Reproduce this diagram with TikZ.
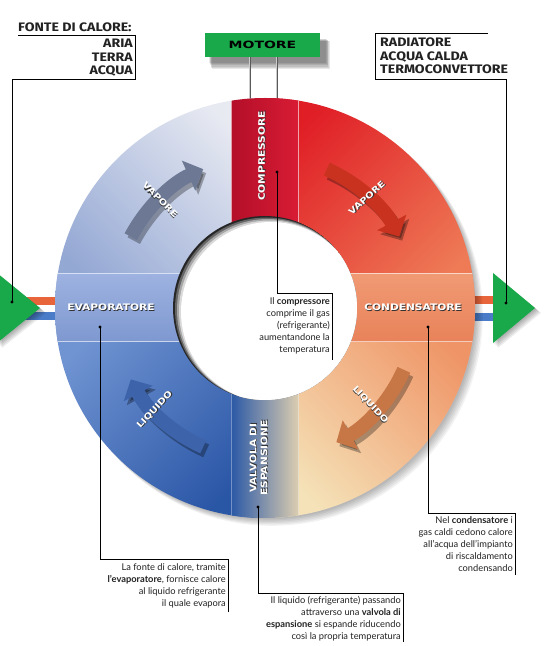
\documentclass[tikz,border=0pt]{standalone}
\usepackage{fontspec}
\setmainfont{Lato}
\newfontfamily\headfont[FakeStretch=1.15]{Fira Sans}
\newfontfamily\bandfont[FakeStretch=1.18]{DejaVu Sans}
\newfontfamily\motorfont[FakeStretch=1.4]{DejaVu Sans}
\usetikzlibrary{arrows.meta}
\definecolor{tlA}{HTML}{E8EAF2}
\definecolor{tlB}{HTML}{94A8D4}
\definecolor{trA}{HTML}{E01E26}
\definecolor{trB}{HTML}{EE7A56}
\definecolor{brA}{HTML}{EF9466}
\definecolor{brB}{HTML}{F5E2B8}
\definecolor{blA}{HTML}{7094D2}
\definecolor{blB}{HTML}{2A56A6}
\definecolor{comp}{HTML}{C8102E}
\definecolor{compL}{HTML}{D81C34}
\definecolor{evapA}{HTML}{9DB2E0}
\definecolor{evapB}{HTML}{7E98D0}
\definecolor{condA}{HTML}{F09A74}
\definecolor{condB}{HTML}{E8825A}
\definecolor{valL}{HTML}{2C5AA6}
\definecolor{valR}{HTML}{DCCDB0}
\definecolor{gr}{HTML}{19A84A}
\definecolor{stO}{HTML}{E8643A}
\definecolor{stB}{HTML}{4A7CC8}
\definecolor{arTL}{HTML}{6C7894}
\definecolor{arTR}{HTML}{C8321E}
\definecolor{arBR}{HTML}{C77646}
\definecolor{arBL}{HTML}{3D64AA}
\definecolor{txt}{HTML}{222222}
\newcommand\shtext[1]{\leavevmode\rlap{\kern0.8pt\raisebox{-0.8pt}{\color{black!80}#1}}{\color{white}#1}}
\tikzset{
  bigarrow/.style={line width=14pt,-{Triangle[length=16pt,width=32pt]}},
  bandlbl/.style={font=\bandfont\bfseries\fontsize{9}{11}\selectfont,inner sep=0,align=center},
  arrlbl/.style={font=\bandfont\bfseries\fontsize{8.5}{10}\selectfont,inner sep=0},
  caption/.style={font=\fontsize{9.3}{12}\selectfont,text=txt,inner sep=0,anchor=north east,align=right},
  callout/.style={draw=black,line width=0.7pt},
  dotmark/.style={fill=black},
  rod/.style={draw=gray!70!black,line width=2.6pt},
  rodhl/.style={draw=gray!40,line width=0.9pt},
  headbold/.style={font=\headfont\bfseries\fontsize{12.3}{13.5}\selectfont,text=txt,inner sep=0}
}
\begin{document}
\begin{tikzpicture}[x=1pt,y=1pt]
\useasboundingbox[fill=white] (0,0) rectangle (544,646);

% ---- motor: shadow, rods, box
\foreach \k in {0,...,5}{
  \fill[black,opacity=0.09] (209+\k*0.6,583-\k*1.2) rectangle (326+\k*0.8,607-\k*0.4);
}
\draw[rod] (250,589) -- (250,545);
\draw[rod] (277,589) -- (277,545);
\draw[rodhl] (249.5,589) -- (249.5,545);
\draw[rodhl] (276.5,589) -- (276.5,545);
\node[fill=gr,minimum width=115,minimum height=24,inner sep=0,
      font=\motorfont\bfseries\fontsize{10}{10}\selectfont] (mot) at (262.5,601) {MOTORE};

% ---- side stripes
\fill[stO] (20,341) rectangle (62,349);
\fill[stB] (20,326) rectangle (62,334);
\fill[stO] (465,342) rectangle (500,350);
\fill[stB] (465,325) rectangle (500,333);

% ---- ring
\begin{scope}[shift={(265,338)}]
  % outer shadow
  \foreach \k in {1,...,6}{
    \fill[black,opacity=0.05] (1+\k,-1-\k) circle (209+\k*0.3);
  }
  \begin{scope}
    \clip (0,0) circle (210);
    \shade[top color=tlA,bottom color=tlB,shading angle=-45] (-210,0) rectangle (0,210);
    \shade[top color=trA,bottom color=trB,shading angle=45] (0,0) rectangle (210,210);
    \shade[top color=brA,bottom color=brB,shading angle=-45] (0,-210) rectangle (210,0);
    \shade[top color=blA,bottom color=blB,shading angle=45] (-210,-210) rectangle (0,0);
    % bands
    \shade[left color=comp!90!black,right color=compL] (-33.5,0) rectangle (33.5,210);
    \shade[left color=valL,right color=valR] (-33.5,-210) rectangle (33.5,0);
    \shade[top color=evapA,bottom color=evapB] (-210,-34) rectangle (0,34);
    \shade[top color=condA,bottom color=condB] (0,-34) rectangle (210,34);
    % band edge highlights
    \draw[white,opacity=0.6,line width=1pt] (-33.5,0) -- (-33.5,210) (33.5,0) -- (33.5,210);
    \draw[white,opacity=0.35,line width=1pt] (-33.5,0) -- (-33.5,-210) (33.5,0) -- (33.5,-210);
    \draw[white,opacity=0.6,line width=1pt] (-210,34) -- (210,34) (-210,-34) -- (210,-34);
  \end{scope}
  % hole with inner shadow
  \begin{scope}
    \clip (0,0) circle (92);
    \fill[black!85] (0,0) circle (92);
    \fill[black!60] (1.5,-1) circle (91.5);
    \fill[black!35] (3,-2) circle (91);
    \fill[black!15] (4.5,-3) circle (90.5);
    \fill[white] (6,-4) circle (90);
  \end{scope}

  % flow arrows: shadows
  \draw[bigarrow,black,opacity=0.3] ([shift={(3,-4)}]152:152) arc[start angle=152,end angle=114,radius=152];
  \draw[bigarrow,black,opacity=0.3] ([shift={(3,-4)}]66:152) arc[start angle=66,end angle=28,radius=152];
  \draw[bigarrow,black,opacity=0.3] ([shift={(3,-4)}]-24:152) arc[start angle=-24,end angle=-62,radius=152];
  \draw[bigarrow,black,opacity=0.3] ([shift={(3,-4)}]-114:152) arc[start angle=-114,end angle=-152,radius=152];
  % flow arrows
  \draw[bigarrow,arTL] (152:152) arc[start angle=152,end angle=114,radius=152];
  \draw[bigarrow,arTR] (66:152) arc[start angle=66,end angle=28,radius=152];
  \draw[bigarrow,arBR] (-24:152) arc[start angle=-24,end angle=-62,radius=152];
  \draw[bigarrow,arBL] (-114:152) arc[start angle=-114,end angle=-152,radius=152];

  % labels
  \node[bandlbl,rotate=90] (lcomp) at (-3,152) {\shtext{COMPRESSORE}};
  \node[bandlbl] (levap) at (-154,0) {\shtext{EVAPORATORE}};
  \node[bandlbl] (lcond) at (148,0) {\shtext{CONDENSATORE}};
  \node[bandlbl,rotate=90] (lvalv) at (-6,-150) {\shtext{VALVOLA DI}\\\shtext{ESPANSIONE}};
  \node[arrlbl,rotate=-45] (vap1) at (-105,108) {\shtext{VAPORE}};
  \node[arrlbl,rotate=42] (vap2) at (102,110) {\shtext{VAPORE}};
  \node[arrlbl,rotate=-47] (liq1) at (105,-97) {\shtext{LIQUIDO}};
  \node[arrlbl,rotate=47] (liq2) at (-110,-102) {\shtext{LIQUIDO}};
\end{scope}

% ---- green triangles with shadows
\foreach \k in {1,...,5}{
  \fill[black,opacity=0.07] (-3+\k,373-\k) -- (40+\k*1.2,338-\k) -- (-3+\k,303-\k) -- cycle;
  \fill[black,opacity=0.07] (493+\k,373-\k) -- (535+\k*1.2,338-\k) -- (493+\k,303-\k) -- cycle;
}
\fill[gr] (-3,373) -- (40,338) -- (-3,303) -- cycle;
\fill[gr] (493,373) -- (535,338) -- (493,303) -- cycle;

% ---- top-left heading box
\node[headbold,anchor=base west] (fonte) at (18,614) {FONTE DI CALORE:};
\node[headbold,anchor=north east,align=right] (srcs) at (133,607) {ARIA\\TERRA\\ACQUA};
\coordinate (dl) at (12,344);
\draw[callout] (18,611) -- (135,611) -- (135,567) -- (12,567) -- (dl);
\fill[dotmark] (dl) circle (1.7);

% ---- top-right heading box
\node[headbold,anchor=north west,align=left] (dest) at (380,608) {RADIATORE\\ACQUA CALDA\\TERMOCONVETTORE};
\coordinate (dr) at (506,343);
\draw[callout] (488,613) -- (375,613) -- (375,567) -- (506,567) -- (dr);
\fill[dotmark] (dr) circle (1.7);

% ---- callouts
\coordinate (dc) at (277,474);
\draw[callout] (dc) -- (277,353) -- (332,353) -- (332,286);
\fill[dotmark] (dc) circle (1.7);
\node[caption] (tcomp) at (330,349) {Il \textbf{compressore}\\comprime il gas\\(refrigerante)\\aumentandone la\\temperatura};

\coordinate (de) at (100,319);
\draw[callout] (de) -- (100,87) -- (228,87) -- (228,34);
\fill[dotmark] (de) circle (1.7);
\node[caption] (tevap) at (226,83) {La fonte di calore, tramite\\\textbf{l'evaporatore}, fornisce calore\\al liquido refrigerante\\il quale evapora};

\coordinate (dv) at (258,139);
\draw[callout] (dv) -- (258,53) -- (403,53) -- (403,4);
\fill[dotmark] (dv) circle (1.7);
\node[caption] (tvalv) at (401,50) {Il liquido (refrigerante) passando\\attraverso una \textbf{valvola di}\\\textbf{espansione} si espande riducendo\\così la propria temperatura};

\coordinate (dk) at (428,319);
\draw[callout] (dk) -- (428,133) -- (515,133) -- (515,71);
\fill[dotmark] (dk) circle (1.7);
\node[caption] (tcond) at (513,130) {Nel \textbf{condensatore} i\\gas caldi cedono calore\\all'acqua dell'impianto\\di riscaldamento\\condensando};
\end{tikzpicture}
\end{document}
